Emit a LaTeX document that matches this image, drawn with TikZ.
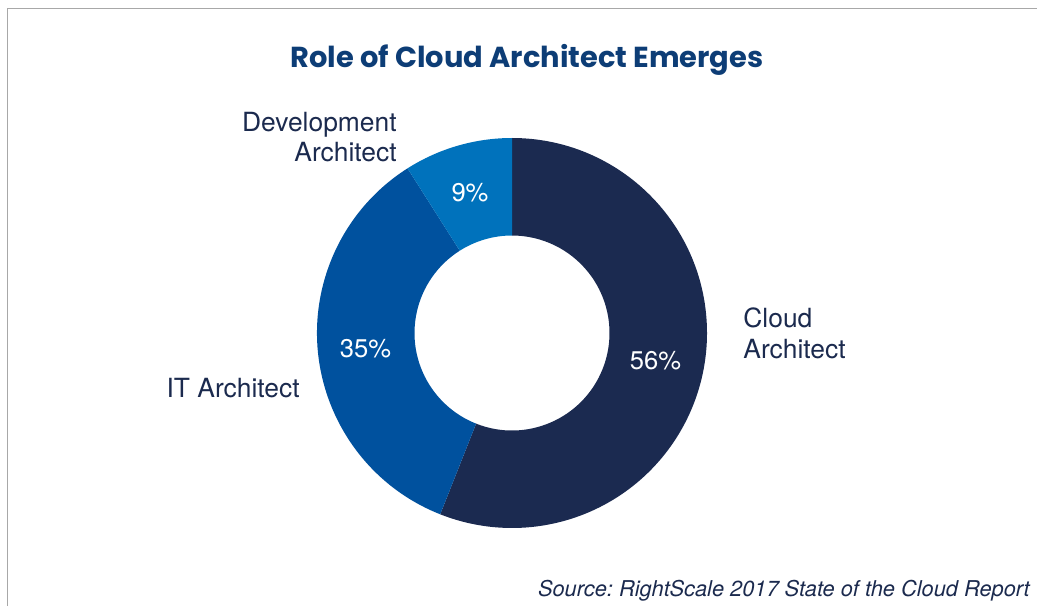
\documentclass[tikz,border=0pt]{standalone}
\usepackage{fontspec}
\setmainfont{TeX Gyre Heros}
\newfontfamily\titlefont{Poppins Bold}
\usetikzlibrary{calc}
\frenchspacing
\definecolor{navytext}{HTML}{1B2A4E}
\definecolor{titleblue}{HTML}{0D3D76}
\definecolor{slicedark}{HTML}{1B2A50}
\definecolor{slicemid}{HTML}{00519E}
\definecolor{slicelight}{HTML}{0072BC}
\definecolor{framegray}{HTML}{A8A8A8}
\tikzset{
  lbl/.style={text=navytext, font=\fontsize{13.2}{16}\selectfont, inner sep=0pt},
  pct/.style={text=white, font=\fontsize{12.8}{15}\selectfont, inner sep=0pt},
}
\begin{document}
\begin{tikzpicture}[x=0.5pt,y=0.5pt]
\useasboundingbox (0,0) rectangle (1037,606);
\fill[white] (0,0) rectangle (1037,606);
\draw[framegray, line width=0.8pt] (7.5,0) -- (7.5,597.5) -- (1037,597.5);
\coordinate (c) at (512,273);
\def\Ro{195}\def\Ri{97.5}
% 56% Cloud Architect
\fill[slicedark] ($(c)+(90:\Ro)$) arc[start angle=90,end angle=-111.6,radius=\Ro]
  -- ($(c)+(-111.6:\Ri)$) arc[start angle=-111.6,end angle=90,radius=\Ri] -- cycle;
% 35% IT Architect
\fill[slicemid] ($(c)+(-111.6:\Ro)$) arc[start angle=248.4,end angle=122.4,radius=\Ro]
  -- ($(c)+(122.4:\Ri)$) arc[start angle=122.4,end angle=248.4,radius=\Ri] -- cycle;
% 9% Development Architect
\fill[slicelight] ($(c)+(122.4:\Ro)$) arc[start angle=122.4,end angle=90,radius=\Ro]
  -- ($(c)+(90:\Ri)$) arc[start angle=90,end angle=122.4,radius=\Ri] -- cycle;
% title
\node[text=titleblue, font=\titlefont\fontsize{14.45}{17}\selectfont, anchor=base, inner sep=0pt] (title) at (527,538) {Role of Cloud Architect Emerges};
% labels
\node[lbl, anchor=base east, align=right] (dev1) at (397,474) {Development};
\node[lbl, anchor=base east, align=right] (dev2) at (397,444.5) {Architect};
\node[lbl, anchor=base west] (cloud1) at (743,279) {Cloud};
\node[lbl, anchor=base west] (cloud2) at (743,248) {Architect};
\node[lbl, anchor=base east] (it) at (300,208.5) {IT Architect};
% percentages
\node[pct, anchor=base] (p9) at (470,404.5) {9\%};
\node[pct, anchor=base] (p35) at (365.5,249) {35\%};
\node[pct, anchor=base] (p56) at (655.5,237) {56\%};
% source
\node[text=navytext, font=\itshape\fontsize{10.9}{13}\selectfont, anchor=base east, inner sep=0pt] (src) at (1030,9.5) {Source: RightScale 2017 State of the Cloud Report};
\end{tikzpicture}
\end{document}
